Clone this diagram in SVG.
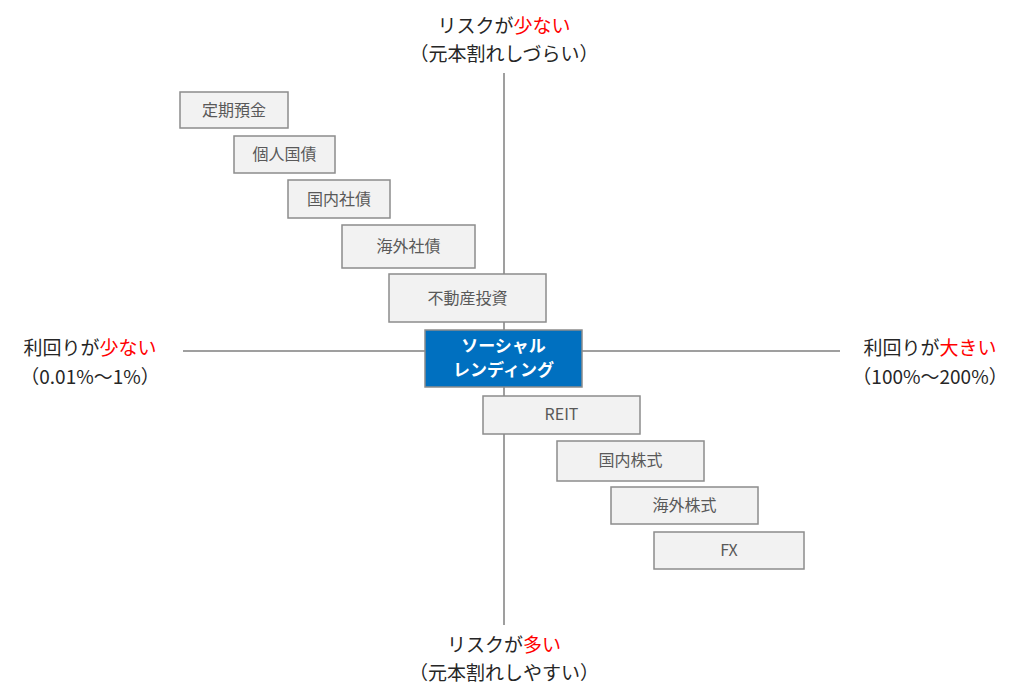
<svg xmlns="http://www.w3.org/2000/svg" width="1024" height="697" viewBox="0 0 1024 697">
<style>
text{font-family:"Noto Sans CJK JP","Noto Sans",sans-serif;}
.b rect{fill:#f2f2f2;stroke:#8c8c8c;stroke-width:1.5}
.b text{fill:#595959;font-size:16px;text-anchor:middle}
.ax{fill:#262626;font-size:19px;text-anchor:middle}
.r{fill:#ff0000}
</style>
<rect width="1024" height="697" fill="#fff"/>
<g id="connectors" stroke="#7f7f7f" stroke-width="1.5">
<line x1="504" y1="73" x2="504" y2="625"/>
<line x1="183" y1="351" x2="840" y2="351"/>
</g>
<g id="n1" class="b"><rect x="180" y="92" width="108" height="36"/><text x="234" y="116">定期預金</text></g>
<g id="n2" class="b"><rect x="234" y="136" width="101" height="37"/><text x="284.5" y="160">個人国債</text></g>
<g id="n3" class="b"><rect x="288" y="180" width="102" height="38"/><text x="339" y="205">国内社債</text></g>
<g id="n4" class="b"><rect x="342" y="225" width="133" height="43"/><text x="408.5" y="252">海外社債</text></g>
<g id="n5" class="b"><rect x="389" y="274" width="157" height="48"/><text x="467.5" y="304">不動産投資</text></g>
<g id="n6"><rect x="425" y="330" width="157" height="57" fill="#0070c0" stroke="#8c8c8c" stroke-width="1.5"/>
<text x="503.5" y="352" fill="#fff" font-size="17" font-weight="bold" text-anchor="middle">ソーシャル</text>
<text x="503.5" y="376" fill="#fff" font-size="17" font-weight="bold" text-anchor="middle">レンディング</text></g>
<g id="n7" class="b"><rect x="483" y="396" width="157" height="38"/><text x="561.5" y="420">REIT</text></g>
<g id="n8" class="b"><rect x="557" y="441" width="147" height="40"/><text x="630.5" y="466">国内株式</text></g>
<g id="n9" class="b"><rect x="611" y="487" width="147" height="37"/><text x="684.5" y="511">海外株式</text></g>
<g id="n10" class="b"><rect x="654" y="532" width="150" height="37"/><text x="729" y="556">FX</text></g>
<g id="labels">
<text class="ax" x="504" y="33">リスクが<tspan class="r">少ない</tspan></text>
<text class="ax" x="504" y="61">（元本割れしづらい）</text>
<text class="ax" x="504" y="652">リスクが<tspan class="r">多い</tspan></text>
<text class="ax" x="504" y="680">（元本割れしやすい）</text>
<text class="ax" x="90" y="355">利回りが<tspan class="r">少ない</tspan></text>
<text class="ax" x="90" y="384">（0.01%～1%）</text>
<text class="ax" x="930" y="355">利回りが<tspan class="r">大きい</tspan></text>
<text class="ax" x="930" y="384">（100%～200%）</text>
</g>
</svg>
